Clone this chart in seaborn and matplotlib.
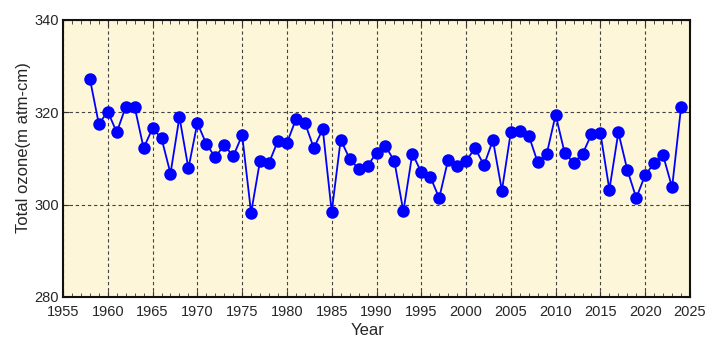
import matplotlib
matplotlib.use("Agg")
import matplotlib.pyplot as plt
from matplotlib.ticker import MultipleLocator
import seaborn as sns
import pandas as pd

years = list(range(1958, 2025))
ozone = [
    327.2, 317.4, 320.1, 315.6, 321.1, 321.1, 312.2, 316.5, 314.3, 306.7,
    318.9, 307.8, 317.6, 313.1, 310.2, 312.9, 310.4, 315.0, 298.2, 309.5,
    309.0, 313.8, 313.3, 318.4, 317.7, 312.2, 316.3, 298.4, 314.0, 309.9,
    307.7, 308.3, 311.2, 312.7, 309.3, 298.5, 311.0, 307.0, 306.0, 301.4,
    309.7, 308.3, 309.4, 312.2, 308.5, 313.9, 303.0, 315.7, 315.8, 314.9,
    309.1, 310.9, 319.4, 311.2, 309.0, 310.9, 315.2, 315.4, 303.2, 315.6,
    307.5, 301.4, 306.4, 308.9, 310.6, 303.7, 321.0,
]
x_ticks = list(range(1955, 2026, 5))
y_ticks = [280, 300, 320, 340]

sns.set_style("ticks")
plt.rcParams["font.family"] = ["Liberation Sans", "DejaVu Sans"]

df = pd.DataFrame({"Year": years, "Ozone": ozone})

fig = plt.figure(figsize=(7.13, 3.43), dpi=100)
ax = fig.add_axes([63 / 713, 46 / 343, 627 / 713, 277.5 / 343])
ax.set_facecolor("#fdf6d8")

sns.lineplot(data=df, x="Year", y="Ozone", ax=ax, color="#0000ff", linewidth=1.3,
             marker="o", markersize=9, markeredgewidth=0, zorder=3)

ax.set_xlim(1955, 2025)
ax.set_ylim(280, 340)
ax.set_xticks(x_ticks)
ax.set_xticklabels([str(t) for t in x_ticks])
ax.set_yticks(y_ticks)
ax.xaxis.set_minor_locator(MultipleLocator(1))
ax.grid(True, which="major", linestyle=(0, (3, 2.5)), color="#444444", linewidth=0.8)
ax.tick_params(axis="x", which="both", direction="in", top=True, bottom=True,
               labelsize=10.5, pad=5.5, color="#333333")
ax.tick_params(axis="x", which="major", length=4)
ax.tick_params(axis="x", which="minor", length=3)
ax.tick_params(axis="y", which="major", direction="in", left=True, right=True,
               length=4, labelsize=10.5, pad=3, color="#333333")
for s in ax.spines.values():
    s.set_linewidth(1.5)
    s.set_color("#111111")

ax.set_xlabel("Year", fontsize=12)
ax.set_ylabel("Total ozone(m atm-cm)", fontsize=12)
ax.xaxis.set_label_coords(0.486, -0.092)
ax.yaxis.set_label_coords(-0.051, 0.54)

fig.savefig("out.png", dpi=100)
